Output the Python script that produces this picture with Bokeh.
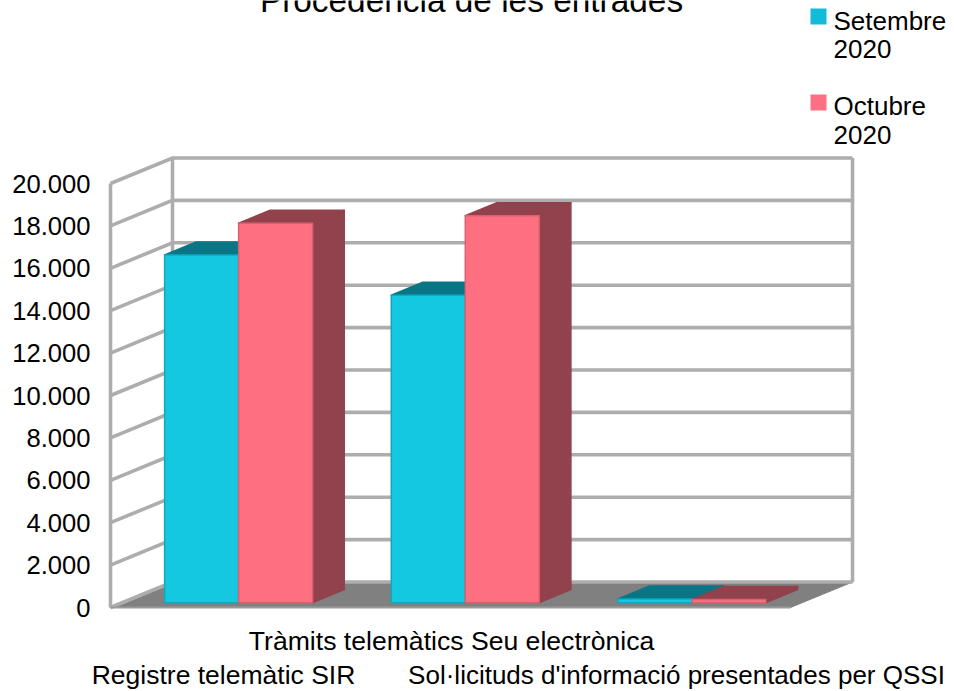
from bokeh.plotting import figure
from bokeh.embed import file_html
from bokeh.resources import INLINE
from bokeh.models import Range1d, LinearAxis, FixedTicker
from bokeh.core.properties import value

title = "Procedència de les entrades"
categories = ["Registre telemàtic SIR", "Tràmits telemàtics Seu electrònica",
              "Sol·licituds d'informació presentades per QSSI"]
setembre = [16400, 14500, 170]
octubre = [17900, 18250, 150]
series_names = [("Setembre", "2020"), ("Octubre", "2020")]
y_ticks = [0, 2000, 4000, 6000, 8000, 10000, 12000, 14000, 16000, 18000, 20000]
y_labels = ["0", "2.000", "4.000", "6.000", "8.000", "10.000", "12.000", "14.000", "16.000", "18.000", "20.000"]

W, H = 954, 691
FONT = "Liberation Sans"
PX_X = 226.67          # pixels per category
PX_Y = 0.0212          # pixels per value unit
X0, Y0 = 110, 607      # front-bottom-left corner of the box, in pixels
LEFT = 91

DX, DY = 62 / PX_X, 25.5 / PX_Y  # full depth of the box in data units


def proj(x, y, z):
    return x + DX * z, y + DY * z


p = figure(width=W, height=H, output_backend="svg", toolbar_location=None,
           x_range=Range1d((LEFT - X0) / PX_X, (W - X0) / PX_X),
           y_range=Range1d((Y0 - H) / PX_Y, Y0 / PX_Y),
           min_border_left=LEFT, min_border_right=0, min_border_top=0, min_border_bottom=0,
           outline_line_color=None, background_fill_color="white",
           border_fill_color="white", x_axis_location=None, y_axis_location=None)
p.xgrid.visible = False
p.ygrid.visible = False

axis = LinearAxis(ticker=FixedTicker(ticks=y_ticks), bounds=(0, 20000),
                  major_label_overrides={t: l for t, l in zip(y_ticks, y_labels)},
                  axis_line_color=None, major_tick_line_color=None, minor_tick_line_color=None,
                  major_tick_out=0, major_tick_in=0, major_label_standoff=1,
                  major_label_text_font=FONT, major_label_text_font_size="25.6px",
                  major_label_text_color="black")
p.add_layout(axis, "left")

n = len(categories)
top = y_ticks[-1]
GRID = "#adadad"
LW = 3.6

# floor
fx, fy = zip(*[proj(0, 0, 0), proj(n, 0, 0), proj(n, 0, 1), proj(0, 0, 1)])
p.patch(list(fx), list(fy), fill_color="#808080", line_color="#808080", line_width=1)

# gridlines on the side and back walls
for t in y_ticks:
    a, b, c = proj(0, t, 0), proj(0, t, 1), proj(n, t, 1)
    p.line([a[0], b[0], c[0]], [a[1], b[1], c[1]], line_color=GRID, line_width=LW, line_join="miter")
a, b = proj(0, 0, 0), proj(0, top, 0)
p.line([a[0], b[0]], [a[1], b[1]], line_color=GRID, line_width=LW)
a, b = proj(0, 0, 1), proj(0, top, 1)
p.line([a[0], b[0]], [a[1], b[1]], line_color=GRID, line_width=LW)
a, b = proj(n, 0, 1), proj(n, top, 1)
p.line([a[0], b[0]], [a[1], b[1]], line_color=GRID, line_width=LW)
# front edge of the floor
a, b = proj(0, 0, 0), proj(n, 0, 0)
p.line([a[0], b[0]], [a[1], b[1]], line_color="#9a9a9a", line_width=2)

# bars
BAR_W = 74 / PX_X
Z0, Z1 = 0.19, 0.70
OFF = 3 / PX_X
styles = [("#13c8e0", "#0a7685", "#0a7685", "#0ea9bd"),
          ("#ff6f82", "#91424c", "#91424c", "#d9606f")]
for i in range(n):
    for s, vals in enumerate((setembre, octubre)):
        face, side, topc, edge = styles[s]
        x0 = i + 0.5 + OFF + (s - 1) * BAR_W
        x1 = x0 + BAR_W
        v = vals[i]
        polys = [
            ([proj(x1, 0, Z0), proj(x1, 0, Z1), proj(x1, v, Z1), proj(x1, v, Z0)], side, side),
            ([proj(x0, v, Z0), proj(x1, v, Z0), proj(x1, v, Z1), proj(x0, v, Z1)], topc, topc),
            ([proj(x0, 0, Z0), proj(x1, 0, Z0), proj(x1, v, Z0), proj(x0, v, Z0)], face, edge),
        ]
        for pts, fc, lc in polys:
            xs, ys = zip(*pts)
            p.patch(list(xs), list(ys), fill_color=fc, line_color=lc, line_width=1.5, line_join="round")


def X(px):
    return (px - X0) / PX_X


def Y(py):
    return (Y0 - py) / PX_Y


def label(px, py, txt, size, align="left"):
    p.text([X(px)], [Y(py)], text=[txt], text_font=value(FONT), text_font_size=value(size),
           text_align=align, text_baseline="middle", text_color="black")


# title, clipped by the top of the page as in the source
label(471, 0, title, "33.4px", "center")

# category labels, staggered
label(223, 674, categories[0], "26.5px", "center")
label(451, 640, categories[1], "26.6px", "center")
label(676, 674, categories[2], "26px", "center")

# legend
for k, ((l1, l2), color) in enumerate(zip(series_names, ("#13bcd6", "#fb7183"))):
    base = 16 + k * 86
    p.quad(left=[X(810)], right=[X(826)], top=[Y(base - 8)], bottom=[Y(base + 8)],
           fill_color=color, line_color=None)
    label(833, base + 4 - k, l1, "26px")
    label(833, base + 32, l2, "26px")

open("out.html", "w").write(file_html(p, INLINE))
